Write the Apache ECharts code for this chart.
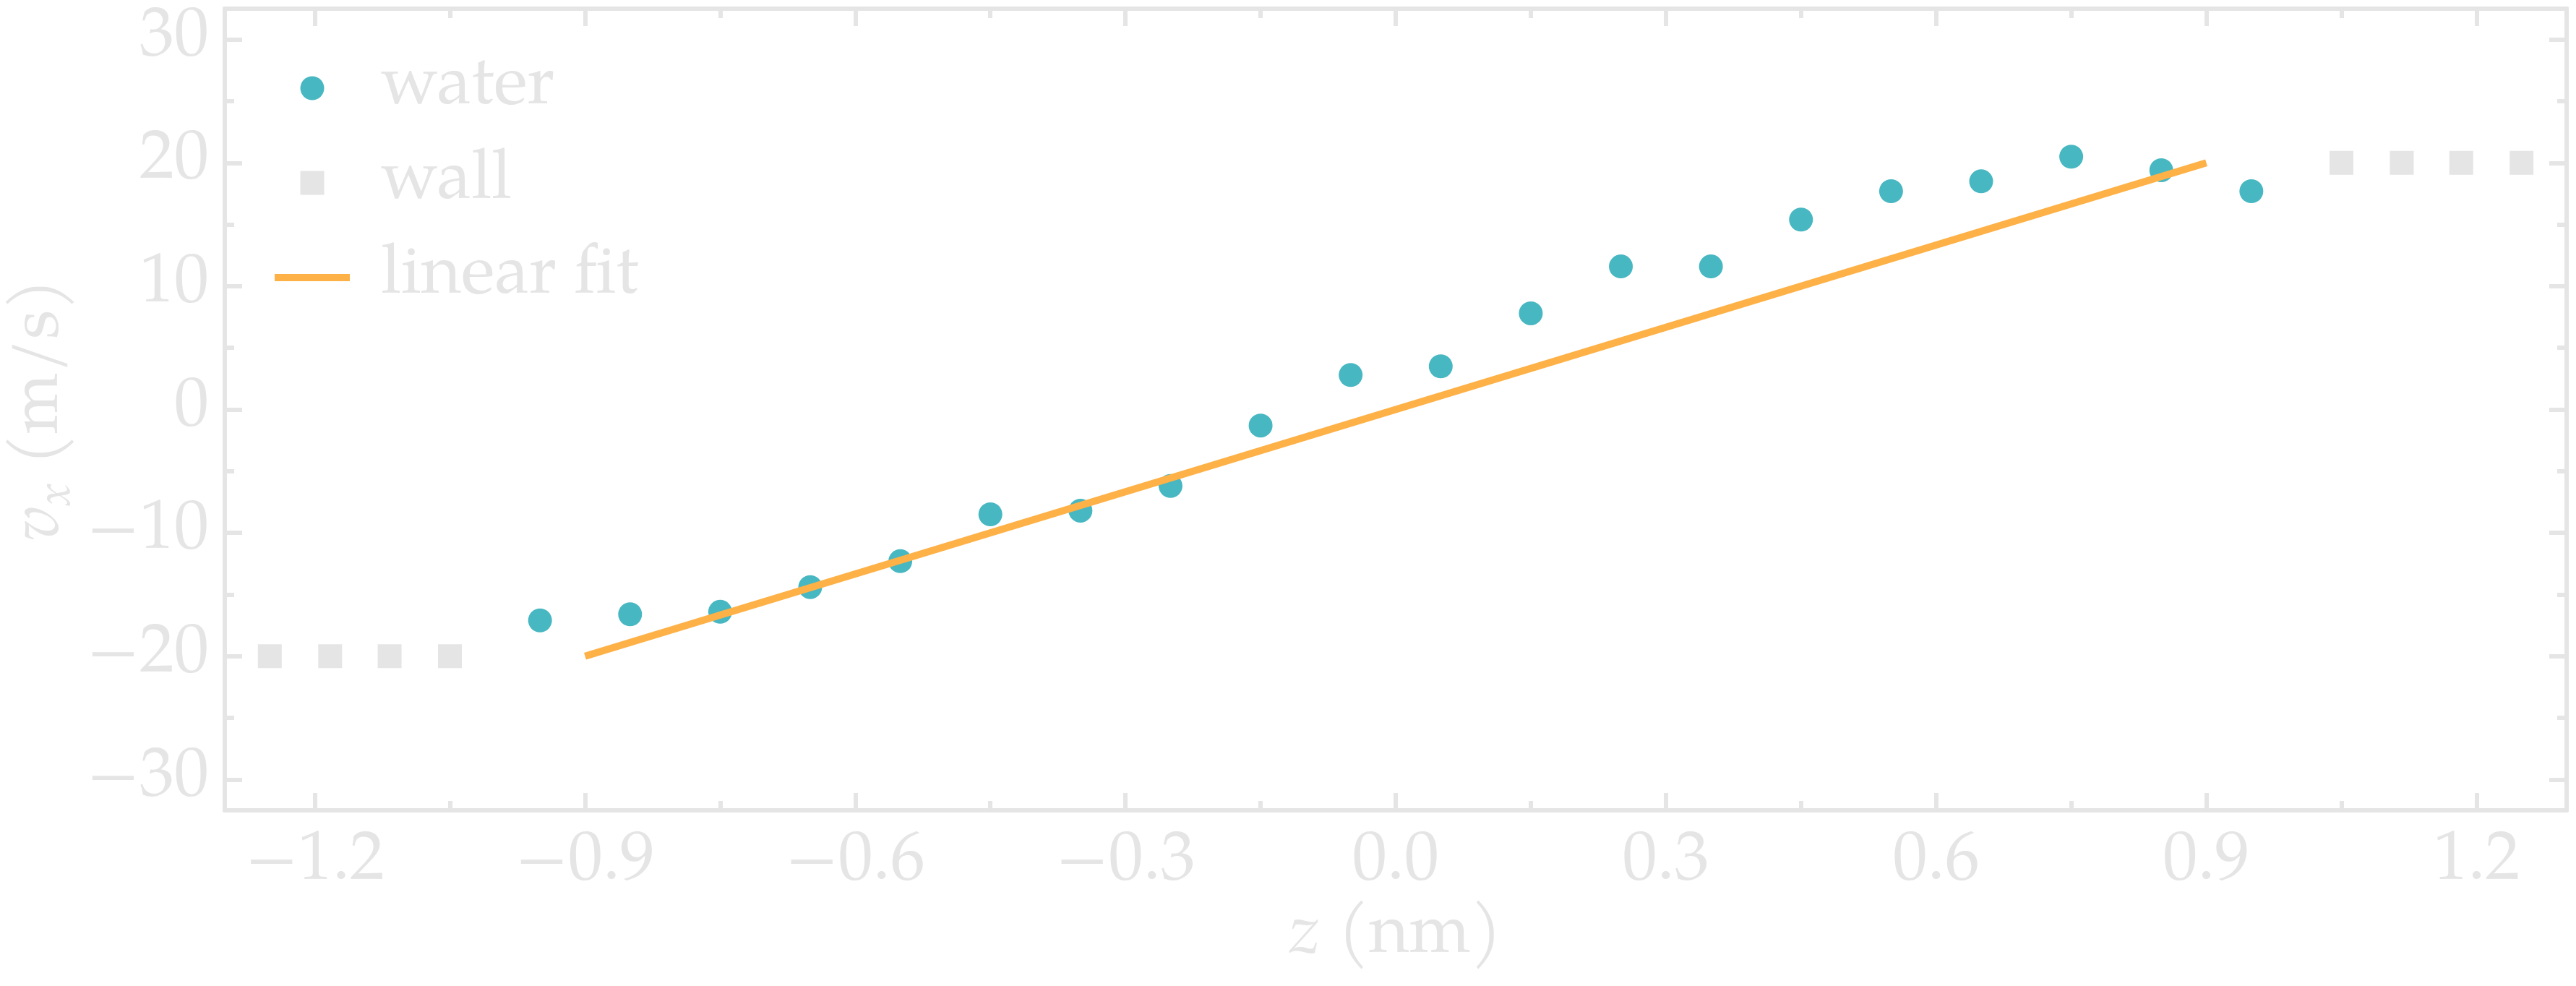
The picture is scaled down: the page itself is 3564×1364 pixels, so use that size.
<!DOCTYPE html>
<html>
<head>
<meta charset="utf-8">
<script src="https://cdn.jsdelivr.net/npm/echarts@6/dist/echarts.min.js"></script>
<style>
html,body{margin:0;padding:0;background:#fff;}
#chart{width:3564px;height:1364px;}
</style>
</head>
<body>
<div id="chart"></div>
<script>
// ---- data ----
const waterZ = [-0.95,-0.85,-0.75,-0.65,-0.55,-0.45,-0.35,-0.25,-0.15,-0.05,0.05,0.15,0.25,0.35,0.45,0.55,0.65,0.75,0.85,0.95];
const waterV = [-17.1,-16.6,-16.4,-14.4,-12.3,-8.5,-8.2,-6.2,-1.3,2.8,3.5,7.8,11.6,11.6,15.4,17.7,18.5,20.5,19.4,17.7];
const wallZ = [-1.25,-1.183,-1.117,-1.05,1.05,1.117,1.183,1.25];
const wallV = [-20,-20,-20,-20,20,20,20,20];
const fitZ = [-0.9, 0.9];
const fitV = [-20, 20];
const xMajor = [-1.2,-0.9,-0.6,-0.3,0.0,0.3,0.6,0.9,1.2];
const xMinor = [-1.05,-0.75,-0.45,-0.15,0.15,0.45,0.75,1.05];
const yMajor = [-30,-20,-10,0,10,20,30];
const yMinor = [-25,-15,-5,5,15,25];
const xRange = [-1.3, 1.3];
const yRange = [-32.5, 32.5];

const FONT = '"Palatino Linotype", Palatino, "TeX Gyre Pagella", "Liberation Serif", serif';
const GREY = '#e5e5e5';
const TEAL = '#47b7c2';
const ORANGE = '#fdb147';
const FS = 96;

const fmt = (d) => (v) => { const s = Math.abs(v).toFixed(d); return (v < -1e-9 ? '\u2212' : '') + s; };

function xAx(pos, ticks, len, labels, name) {
  const a = {
    type: 'value', position: pos, min: xRange[0], max: xRange[1],
    axisLine: { show: true, onZero: false, lineStyle: { color: GREY, width: 6 } },
    axisTick: { show: true, inside: true, length: len, customValues: ticks, lineStyle: { color: GREY, width: 6 } },
    axisLabel: labels ? { show: true, customValues: ticks, formatter: fmt(1), color: GREY, fontFamily: FONT, fontSize: FS, margin: 26 } : { show: false },
    splitLine: { show: false }
  };
  if (name) {
    a.name = '{i|z} {t|(nm)}';
    a.nameLocation = 'middle';
    a.nameGap = 120;
    a.nameTextStyle = {
      color: GREY, fontFamily: FONT, fontSize: FS,
      rich: {
        i: { fontStyle: 'italic', fontFamily: FONT, fontSize: FS, color: GREY, lineHeight: 110 },
        t: { fontFamily: FONT, fontSize: FS, color: GREY, lineHeight: 110 }
      }
    };
  }
  return a;
}
function yAx(pos, ticks, len, labels, name) {
  const a = {
    type: 'value', position: pos, min: yRange[0], max: yRange[1],
    axisLine: { show: true, onZero: false, lineStyle: { color: GREY, width: 6 } },
    axisTick: { show: true, inside: true, length: len, customValues: ticks, lineStyle: { color: GREY, width: 6 } },
    axisLabel: labels ? { show: true, customValues: ticks, formatter: fmt(0), color: GREY, fontFamily: FONT, fontSize: FS, margin: 22 } : { show: false },
    splitLine: { show: false }
  };
  if (name) {
    a.name = '{i|v}{s|x} {t|(m/s)}';
    a.nameLocation = 'middle';
    a.nameGap = 198;
    a.nameMoveOverlap = false;
    a.nameRotate = 90;
    a.nameTextStyle = {
      color: GREY, fontFamily: FONT, fontSize: FS,
      rich: {
        i: { fontStyle: 'italic', fontFamily: FONT, fontSize: FS, color: GREY, lineHeight: 110 },
        s: { fontStyle: 'italic', fontFamily: FONT, fontSize: 64, color: GREY, lineHeight: 70, verticalAlign: 'bottom' },
        t: { fontFamily: FONT, fontSize: FS, color: GREY, lineHeight: 110 }
      }
    };
  }
  return a;
}

const chart = echarts.init(document.getElementById('chart'), null, { renderer: 'canvas' });
chart.setOption({
  animation: false,
  backgroundColor: '#ffffff',
  grid: { left: 311, right: 13, top: 12, bottom: 243, containLabel: false },
  xAxis: [
    xAx('bottom', xMajor, 24, true, true),
    xAx('bottom', xMinor, 13, false, false),
    xAx('top', xMajor, 24, false, false),
    xAx('top', xMinor, 13, false, false)
  ],
  yAxis: [
    yAx('left', yMajor, 24, true, true),
    yAx('left', yMinor, 13, false, false),
    yAx('right', yMajor, 24, false, false),
    yAx('right', yMinor, 13, false, false)
  ],
  legend: {
    orient: 'vertical', left: 380, top: 72, padding: 0,
    itemWidth: 104, itemHeight: 33, itemGap: 31,
    textStyle: { color: GREY, fontFamily: FONT, fontSize: FS, lineHeight: 100, padding: [0, 0, 0, 38] },
    data: [
      { name: 'water', icon: 'circle' },
      { name: 'wall', icon: 'path://M0,0L10,0L10,10L0,10Z' },
      { name: 'linear fit', icon: 'path://M0,0L104,0L104,10L0,10Z' }
    ]
  },
  series: [
    {
      name: 'water', type: 'scatter', xAxisIndex: 0, yAxisIndex: 0,
      symbol: 'circle', symbolSize: 33, itemStyle: { color: TEAL, opacity: 1 }, z: 2,
      data: waterZ.map((z, i) => [z, waterV[i]])
    },
    {
      name: 'wall', type: 'scatter', xAxisIndex: 0, yAxisIndex: 0,
      symbol: 'rect', symbolSize: 33, itemStyle: { color: GREY, opacity: 1 }, z: 2,
      data: wallZ.map((z, i) => [z, wallV[i]])
    },
    {
      name: 'linear fit', type: 'line', xAxisIndex: 0, yAxisIndex: 0,
      showSymbol: false, symbol: 'none', z: 3,
      lineStyle: { color: ORANGE, width: 10 }, itemStyle: { color: ORANGE },
      data: fitZ.map((z, i) => [z, fitV[i]])
    }
  ]
});
</script>
</body>
</html>
